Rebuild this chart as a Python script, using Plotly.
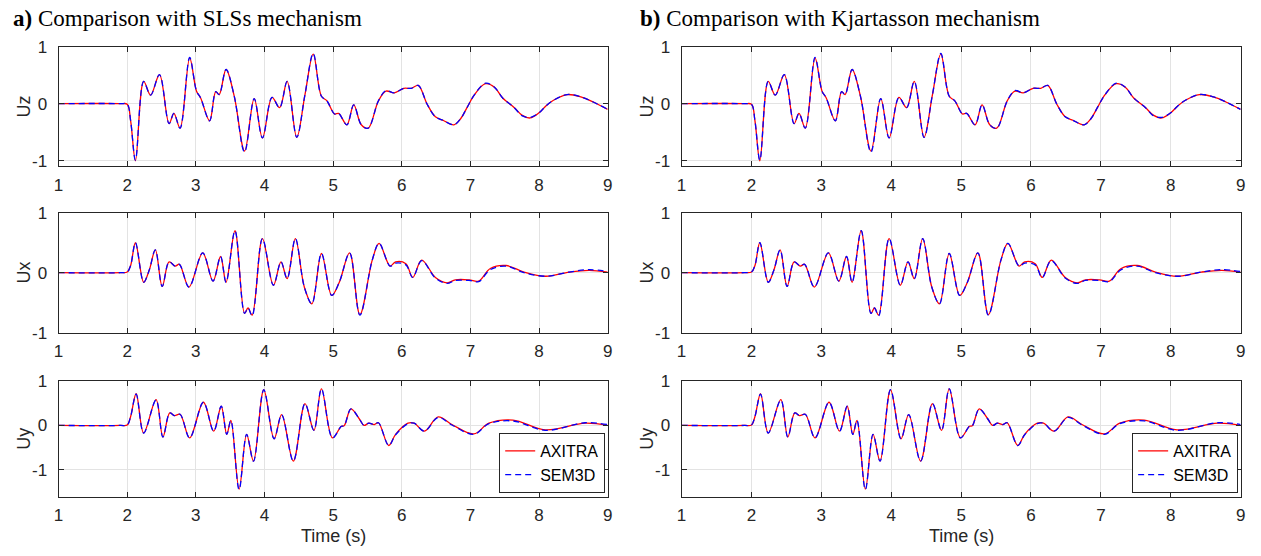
import plotly.graph_objects as go
from plotly.subplots import make_subplots

# ---------------- data ----------------
time_uz = [1.0, 1.9, 2.0, 2.05, 2.12, 2.24, 2.34, 2.47, 2.61, 2.68, 2.77, 2.91, 3.01, 3.07,
           3.20, 3.29, 3.34, 3.44, 3.56, 3.71, 3.85, 3.97, 4.11, 4.22, 4.33, 4.47, 4.59, 4.71,
           4.83, 4.91, 5.02, 5.08, 5.20, 5.30, 5.41, 5.51, 5.66, 5.77, 5.89, 6.03, 6.14, 6.24,
           6.37, 6.49, 6.60, 6.76, 6.86, 6.95, 7.06, 7.22, 7.35, 7.47, 7.64, 7.75, 7.87, 8.00,
           8.10, 8.21, 8.41, 8.61, 8.79, 9.0]
uz_axitra = [0, 0, -0.01, -0.3, -1.0, 0.39, 0.15, 0.51, -0.35, -0.17, -0.43, 0.80, 0.22, 0.10,
             -0.30, 0.21, 0.16, 0.60, 0.13, -0.83, 0.09, -0.60, 0.11, -0.07, 0.39, -0.59, 0.16, 0.87,
             0.13, 0.05, -0.18, -0.17, -0.37, -0.02, -0.37, -0.43, 0.05, 0.22, 0.19, 0.27, 0.27, 0.32,
             -0.01, -0.23, -0.29, -0.37, -0.26, -0.07, 0.16, 0.35, 0.29, 0.10, -0.07, -0.20, -0.25, -0.16,
             -0.04, 0.06, 0.16, 0.12, 0.03, -0.10]
uz_sem3d = [0, 0, -0.01, -0.3, -0.99, 0.39, 0.15, 0.51, -0.35, -0.17, -0.43, 0.81, 0.22, 0.10,
            -0.30, 0.21, 0.16, 0.60, 0.13, -0.85, 0.09, -0.60, 0.11, -0.07, 0.39, -0.59, 0.16, 0.88,
            0.13, 0.05, -0.18, -0.17, -0.37, -0.02, -0.37, -0.43, 0.05, 0.23, 0.19, 0.27, 0.27, 0.32,
            -0.01, -0.23, -0.29, -0.37, -0.26, -0.07, 0.16, 0.36, 0.29, 0.10, -0.07, -0.21, -0.24, -0.16,
            -0.04, 0.06, 0.16, 0.12, 0.03, -0.10]

time_ux = [1.0, 1.9, 2.0, 2.05, 2.12, 2.24, 2.32, 2.41, 2.51, 2.61, 2.70, 2.76, 2.90, 3.10,
           3.25, 3.36, 3.44, 3.57, 3.71, 3.76, 3.82, 3.97, 4.13, 4.24, 4.33, 4.45, 4.58, 4.69,
           4.83, 4.98, 5.09, 5.24, 5.39, 5.57, 5.67, 5.83, 5.91, 6.06, 6.16, 6.29, 6.49, 6.66,
           6.78, 6.98, 7.12, 7.29, 7.52, 7.78, 8.10, 8.44, 8.73, 9.0]
ux_axitra = [0, 0, 0.01, 0.12, 0.50, -0.16, 0.04, 0.38, -0.23, 0.18, 0.11, 0.14, -0.24, 0.33,
             -0.14, 0.27, -0.16, 0.70, -0.68, -0.59, -0.71, 0.57, -0.21, 0.18, -0.10, 0.57, -0.24, -0.52,
             0.32, -0.38, -0.16, 0.33, -0.70, 0.21, 0.49, 0.11, 0.18, 0.15, -0.08, 0.21, -0.08, -0.17,
             -0.12, -0.12, -0.14, 0.07, 0.12, 0.01, -0.06, 0.01, 0.04, 0.01]
ux_sem3d = [0, 0, 0.01, 0.12, 0.50, -0.16, 0.04, 0.38, -0.23, 0.18, 0.11, 0.14, -0.24, 0.33,
            -0.14, 0.27, -0.16, 0.70, -0.68, -0.59, -0.72, 0.57, -0.21, 0.18, -0.10, 0.57, -0.24, -0.52,
            0.32, -0.38, -0.16, 0.33, -0.71, 0.21, 0.49, 0.11, 0.16, 0.13, -0.08, 0.20, -0.09, -0.18,
            -0.13, -0.13, -0.15, 0.05, 0.11, 0.00, -0.06, 0.01, 0.05, 0.02]

time_uy = [1.0, 1.9, 2.0, 2.05, 2.13, 2.24, 2.42, 2.52, 2.62, 2.69, 2.77, 2.91, 3.11, 3.26,
           3.37, 3.45, 3.51, 3.63, 3.74, 3.84, 3.99, 4.14, 4.25, 4.42, 4.59, 4.72, 4.83, 4.99,
           5.12, 5.16, 5.26, 5.38, 5.45, 5.52, 5.60, 5.66, 5.81, 5.91, 6.09, 6.18, 6.33, 6.53,
           6.73, 7.05, 7.27, 7.62, 8.09, 8.67, 9.0]
uy_axitra = [0, 0, 0.01, 0.2, 0.71, -0.17, 0.58, -0.26, 0.28, 0.22, 0.25, -0.28, 0.52, -0.13,
             0.43, -0.20, 0.11, -1.43, -0.20, -0.80, 0.80, -0.30, 0.24, -0.80, 0.49, -0.11, 0.82, -0.28,
             -0.02, -0.01, 0.37, 0.15, 0.0, 0.05, 0.02, 0.06, -0.45, -0.20, 0.05, 0.05, -0.13, 0.19,
             0.02, -0.19, 0.05, 0.12, -0.10, 0.05, 0.0]
uy_sem3d = [0, 0, 0.01, 0.2, 0.70, -0.17, 0.57, -0.26, 0.28, 0.22, 0.25, -0.28, 0.52, -0.13,
            0.43, -0.20, 0.11, -1.44, -0.20, -0.80, 0.80, -0.30, 0.24, -0.80, 0.49, -0.11, 0.82, -0.28,
            -0.02, -0.01, 0.37, 0.15, 0.0, 0.05, 0.02, 0.06, -0.45, -0.21, 0.04, 0.05, -0.13, 0.18,
            0.01, -0.20, 0.04, 0.10, -0.11, 0.06, 0.02]

panel_titles = ["<b>a)</b> Comparison with SLSs mechanism",
                "<b>b)</b> Comparison with Kjartasson mechanism"]
component_labels = ["Uz", "Ux", "Uy"]
y_ranges = [[-1.1, 1], [-1, 1], [-1.6, 1]]
x_ticks = [1, 2, 3, 4, 5, 6, 7, 8, 9]
y_ticks = [-1, 0, 1]
y_tick_text = ["-1", "0", "1"]
series_names = ["AXITRA", "SEM3D"]

components = [(time_uz, uz_axitra, uz_sem3d),
              (time_ux, ux_axitra, ux_sem3d),
              (time_uy, uy_axitra, uy_sem3d)]

# ---------------- layout geometry (pixels) ----------------
W, H = 1261, 556
col_px = [(54.0, 607.5), (682.0, 1245.5)]
row_px = [(39.0, 163.0), (211.0, 335.0), (385.0, 505.0)]

fig = make_subplots(rows=3, cols=2)

axis_font = dict(family="Liberation Sans, Arial, sans-serif", size=17, color="#262626")

for c in range(2):
    for r in range(3):
        t, a, s = components[r]
        leg = "legend" if c == 0 else "legend2"
        show = (r == 2)
        fig.add_trace(go.Scatter(x=t, y=a, mode="lines", name=series_names[0],
                                 line=dict(color="#ff0000", width=1.3, shape="spline", smoothing=1.0),
                                 showlegend=show, legend=leg),
                      row=r + 1, col=c + 1)
        fig.add_trace(go.Scatter(x=t, y=s, mode="lines", name=series_names[1],
                                 line=dict(color="#0000ff", width=1.3, shape="spline", smoothing=1.0,
                                           dash="6px,4px"),
                                 showlegend=show, legend=leg),
                      row=r + 1, col=c + 1)

for c in range(2):
    x0, x1 = col_px[c]
    for r in range(3):
        y0, y1 = row_px[r]
        idx = r * 2 + c + 1
        xa = "xaxis" if idx == 1 else f"xaxis{idx}"
        ya = "yaxis" if idx == 1 else f"yaxis{idx}"
        fig.layout[xa].update(domain=[x0 / W, x1 / W], range=[1, 9], tickvals=x_ticks,
                              showgrid=True, gridcolor="#e3e3e3", gridwidth=1, zeroline=False,
                              showline=True, linecolor="#262626", linewidth=1, mirror="ticks",
                              ticks="inside", ticklen=5, tickcolor="#262626",
                              tickfont=axis_font, ticklabelstandoff=3)
        fig.layout[ya].update(domain=[1 - y1 / H, 1 - y0 / H], range=y_ranges[r],
                              tickvals=y_ticks, ticktext=y_tick_text,
                              showgrid=True, gridcolor="#e3e3e3", gridwidth=1, zeroline=False,
                              showline=True, linecolor="#262626", linewidth=1, mirror="ticks",
                              ticks="inside", ticklen=5, tickcolor="#262626",
                              tickfont=axis_font, ticklabelstandoff=7)
        fig.add_annotation(text=component_labels[r], textangle=-90, showarrow=False,
                           xref="paper", yref="paper", x=(x0 - 35) / W,
                           y=1 - (y0 + y1) / 2 / H, xanchor="center", yanchor="middle",
                           font=dict(family="Liberation Sans, Arial, sans-serif", size=18,
                                     color="#262626"))
    fig.add_annotation(text="Time (s)", showarrow=False, xref="paper", yref="paper",
                       x=(x0 + x1) / 2 / W, y=1 - 546 / H, xanchor="center", yanchor="middle",
                       font=dict(family="Liberation Sans, Arial, sans-serif", size=18,
                                 color="#262626"))

title_x = [6, 638]
for c in range(2):
    fig.add_annotation(text=panel_titles[c], showarrow=False, xref="paper", yref="paper",
                       x=title_x[c] / W, y=1 - 10 / H, xanchor="left", yanchor="middle",
                       font=dict(family="Liberation Serif, Times New Roman, serif", size=23,
                                 color="#000000"))

legend_style = dict(bgcolor="white", bordercolor="#262626", borderwidth=1,
                    font=dict(family="Liberation Sans, Arial, sans-serif", size=16, color="#000000"),
                    xanchor="right", yanchor="bottom", tracegroupgap=0)
fig.update_layout(
    width=W, height=H, margin=dict(l=0, r=0, t=0, b=0),
    plot_bgcolor="white", paper_bgcolor="white",
    legend=dict(x=605 / W, y=1 - 501 / H, **legend_style),
    legend2=dict(x=1243 / W, y=1 - 501 / H, **legend_style),
)

fig.write_html("out.html", config={"displayModeBar": False},
               post_script="document.body.style.margin='0px';")
